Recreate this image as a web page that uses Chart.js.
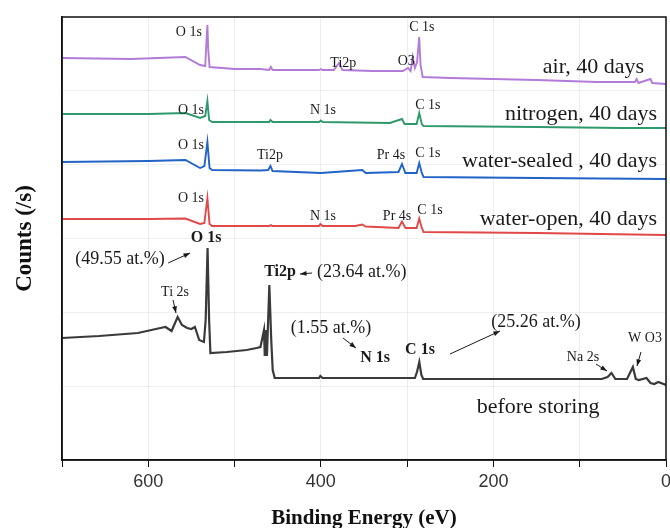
<!DOCTYPE html>
<html>
<head>
<meta charset="utf-8">
<script src="https://cdn.jsdelivr.net/npm/chart.js@4.4.0/dist/chart.umd.min.js"></script>
<style>
  html, body { margin: 0; padding: 0; background: #fff; }
  #wrap { width: 670px; height: 528px; }
</style>
</head>
<body>
<div id="wrap"><canvas id="xps"></canvas></div>
<script>
// survey spectra, binding energy (eV) vs counts (offset, arbitrary)
const airBE      = [700, 620, 557, 540, 534, 532.5, 531.5, 530.5, 529, 500, 470, 460, 458, 456, 430, 402, 400, 398, 385, 379, 375, 340, 305, 299, 296, 293.5, 291, 288.5, 286, 284.5, 282, 250, 150, 80, 36, 34, 32, 18, 16, 0];
const airCounts  = [402, 401, 403, 395, 394, 420, 435, 410, 393, 391, 391, 390, 393, 390, 390, 390, 391, 390, 390, 397, 390, 389, 389, 392, 389, 403, 392, 398, 423, 395, 383, 382, 380, 378, 378, 381, 377, 381, 377, 376];

const n2BE       = [700, 600, 557, 540, 534, 531.5, 529.5, 526, 460, 458.4, 456, 402, 400, 398, 320, 306, 303, 289, 286, 283, 281, 150, 50, 0];
const n2Counts   = [346, 346, 347, 342, 344, 359, 340, 338, 338, 340, 338, 338, 339.5, 338, 337, 341, 336, 336, 347, 336, 334, 333, 332, 332];

const sealedBE     = [700, 600, 557, 540, 535, 531.5, 529, 526, 470, 461, 458.4, 456, 400, 352, 348, 310, 306, 302, 289, 286, 283, 281, 150, 0];
const sealedCounts = [298, 299, 300, 292, 294, 318, 292, 290, 289.5, 290, 294, 289, 287, 290, 287, 288, 296, 287, 287, 297, 287, 283, 282, 281];

const openBE     = [700, 600, 557, 540, 535, 531.5, 529, 526, 460, 458, 456, 402, 400.6, 398, 360, 352, 348, 310, 306, 302, 289, 286, 283, 281, 150, 0];
const openCounts = [241, 241, 241.5, 236, 237, 262, 236, 234, 234, 235, 234, 234, 236, 234, 234, 235.5, 233.5, 232, 238.5, 232, 232, 241.5, 232, 228, 227, 225];

const freshBE     = [700, 657, 612, 586, 580, 573, 566, 561, 555, 550, 546, 541, 535.5, 533.5, 531.3, 529.5, 528, 509, 486, 474.5, 470, 465.9, 465, 463.6, 462.5, 459.7, 457.5, 455.8, 453.5, 402, 400.6, 398, 291, 288.6, 285.9, 283.5, 281.4, 74.5, 67.7, 63.2, 58.7, 45.2, 38.4, 35, 31.6, 22.6, 18, 13.6, 9, 0];
const freshCounts = [122, 124, 127, 132, 133, 129, 143, 135, 132, 131, 133, 120, 118, 140, 212, 140, 107, 108, 110, 112, 113, 130, 104, 130, 104, 175, 120, 90, 82, 82, 84, 82, 82, 88, 98, 85, 81, 81, 83, 87, 81, 81, 93, 81, 80, 82, 77, 76, 78, 75];

const seriesNames  = ['air, 40 days', 'nitrogen, 40 days', 'water-sealed , 40 days', 'water-open, 40 days', 'before storing'];
const xTicks = [700, 600, 500, 400, 300, 200, 100, 0];

// peak labels: text, energy, counts level
const labelTexts  = ['O 1s', 'Ti2p', 'O3', 'C 1s', 'air, 40 days',
                     'O 1s', 'N 1s', 'C 1s', 'nitrogen, 40 days',
                     'O 1s', 'Ti2p', 'Pr 4s', 'C 1s', 'water-sealed , 40 days',
                     'O 1s', 'N 1s', 'Pr 4s', 'C 1s', 'water-open, 40 days',
                     'O 1s', '(49.55 at.%)', 'Ti 2s', 'Ti2p', '(23.64 at.%)', '(1.55 at.%)', 'N 1s', 'C 1s', '(25.26 at.%)', 'Na 2s', 'W O3', 'before storing'];
const labelBE     = [553, 374, 301, 283, 25.5,
                     550.5, 397.5, 276, 10.4,
                     550.5, 459, 318.7, 276, 10.4,
                     550.5, 397.5, 311.7, 273.5, 10.4,
                     533, 632.8, 569, 447.3, 404.4, 388.2, 337.2, 285.1, 150.7, 96.2, 24.3, 148.3];
const labelCounts = [428, 397, 399, 433, 393,
                     350, 350, 355, 346,
                     315, 305, 305, 307, 299,
                     262, 244, 244, 250, 241,
                     222, 201, 168, 188, 188, 132, 102, 110, 138, 103, 122, 53];
const labelKind   = ['s', 's', 's', 's', 'big',
                     's', 's', 's', 'big',
                     's', 's', 's', 's', 'big',
                     's', 's', 's', 's', 'big',
                     'b', 'pct', 's', 'b', 'pctL', 'pct', 'b', 'b', 'pct', 's', 's', 'bigC'];

// arrows in the "before storing" panel: from (BE, counts) to (BE, counts)
const arrowFromBE = [577, 571.3, 410.2, 374.3, 250.3, 81.1, 29];
const arrowFromCt = [197, 160, 187, 122, 106, 96, 108];
const arrowToBE   = [551.6, 567.9, 424.2, 359.3, 192.4, 68.4, 33.6];
const arrowToCt   = [207, 147, 186, 112, 129, 89, 94];

const colors = ['#b27bd9', '#2e9a6b', '#2163c6', '#e14848', '#3a3a3a'];
const spectra = [[airBE, airCounts], [n2BE, n2Counts], [sealedBE, sealedCounts], [openBE, openCounts], [freshBE, freshCounts]];

const serif = '"Liberation Serif", "Times New Roman", serif';

const annotate = {
  id: 'annotate',
  afterDatasetsDraw(chart) {
    const { ctx, scales: { x, y } } = chart;
    ctx.save();
    ctx.fillStyle = '#1a1a1a';
    ctx.textBaseline = 'middle';
    labelTexts.forEach((t, i) => {
      const k = labelKind[i];
      let font = '14px ' + serif, align = 'center';
      if (k === 'big') { font = '22px ' + serif; align = 'right'; }
      if (k === 'bigC') font = '22px ' + serif;
      if (k === 'b') font = 'bold 16px ' + serif;
      if (k === 'pct') font = '18px ' + serif;
      if (k === 'pctL') { font = '18px ' + serif; align = 'left'; }
      ctx.font = font;
      ctx.textAlign = align;
      ctx.fillText(t, x.getPixelForValue(labelBE[i]), y.getPixelForValue(labelCounts[i]));
    });
    // arrows
    ctx.strokeStyle = '#1a1a1a';
    ctx.lineWidth = 1;
    arrowFromBE.forEach((b, i) => {
      const x0 = x.getPixelForValue(b), y0 = y.getPixelForValue(arrowFromCt[i]);
      const x1 = x.getPixelForValue(arrowToBE[i]), y1 = y.getPixelForValue(arrowToCt[i]);
      const a = Math.atan2(y1 - y0, x1 - x0);
      ctx.beginPath();
      ctx.moveTo(x0, y0);
      ctx.lineTo(x1, y1);
      ctx.stroke();
      ctx.beginPath();
      ctx.moveTo(x1, y1);
      ctx.lineTo(x1 - 7 * Math.cos(a - 0.35), y1 - 7 * Math.sin(a - 0.35));
      ctx.lineTo(x1 - 7 * Math.cos(a + 0.35), y1 - 7 * Math.sin(a + 0.35));
      ctx.closePath();
      ctx.fillStyle = '#1a1a1a';
      ctx.fill();
    });
    ctx.restore();
  },
  afterDraw(chart) {
    const { ctx, chartArea: a } = chart;
    ctx.save();
    ctx.strokeStyle = '#111';
    ctx.lineWidth = 1.5;
    ctx.strokeRect(a.left, a.top, a.right - a.left, a.bottom - a.top);
    ctx.restore();
  }
};

new Chart(document.getElementById('xps'), {
  type: 'line',
  data: {
    datasets: spectra.map((s, i) => ({
      label: seriesNames[i],
      data: s[0].map((be, j) => ({ x: be, y: s[1][j] })),
      borderColor: colors[i],
      borderWidth: i === 4 ? 2.2 : 1.9,
      pointRadius: 0,
      tension: 0,
      fill: false
    }))
  },
  options: {
    responsive: true,
    maintainAspectRatio: false,
    animation: false,
    layout: { padding: { top: 17, right: 4, left: 0, bottom: 0 } },
    plugins: { legend: { display: false }, tooltip: { enabled: false } },
    scales: {
      x: {
        type: 'linear',
        reverse: true,
        min: 0,
        max: 700,
        afterBuildTicks: s => { s.ticks = xTicks.map(v => ({ value: v })); },
        ticks: {
          callback: v => (v % 200 === 0 ? v : ''),
          font: { family: '"Liberation Sans", Arial, sans-serif', size: 18 },
          color: '#333',
          padding: 4,
          maxRotation: 0
        },
        grid: { color: 'rgba(0,0,0,0.07)', tickColor: '#111', tickLength: 7 },
        border: { display: true, color: '#111', width: 1.5 },
        title: {
          display: true,
          text: 'Binding Energy (eV)',
          font: { family: serif, size: 21, weight: 'bold', lineHeight: 1 },
          color: '#111',
          padding: { top: 0, bottom: -1 }
        },
        afterFit: s => { s.height = 68; s.paddingLeft = 0; s.paddingRight = 0; }
      },
      y: {
        min: 0,
        max: 443,
        ticks: { display: false, stepSize: 74 },
        grid: { color: 'rgba(0,0,0,0.06)', drawTicks: false },
        border: { display: true, color: '#111', width: 1.5 },
        title: {
          display: true,
          text: 'Counts (/s)',
          font: { family: serif, size: 23, weight: 'bold', lineHeight: 1.2 },
          color: '#111',
          padding: { top: 11, bottom: 0 }
        },
        afterFit: s => { s.width = 62; }
      }
    }
  },
  plugins: [annotate]
});
</script>
</body>
</html>
